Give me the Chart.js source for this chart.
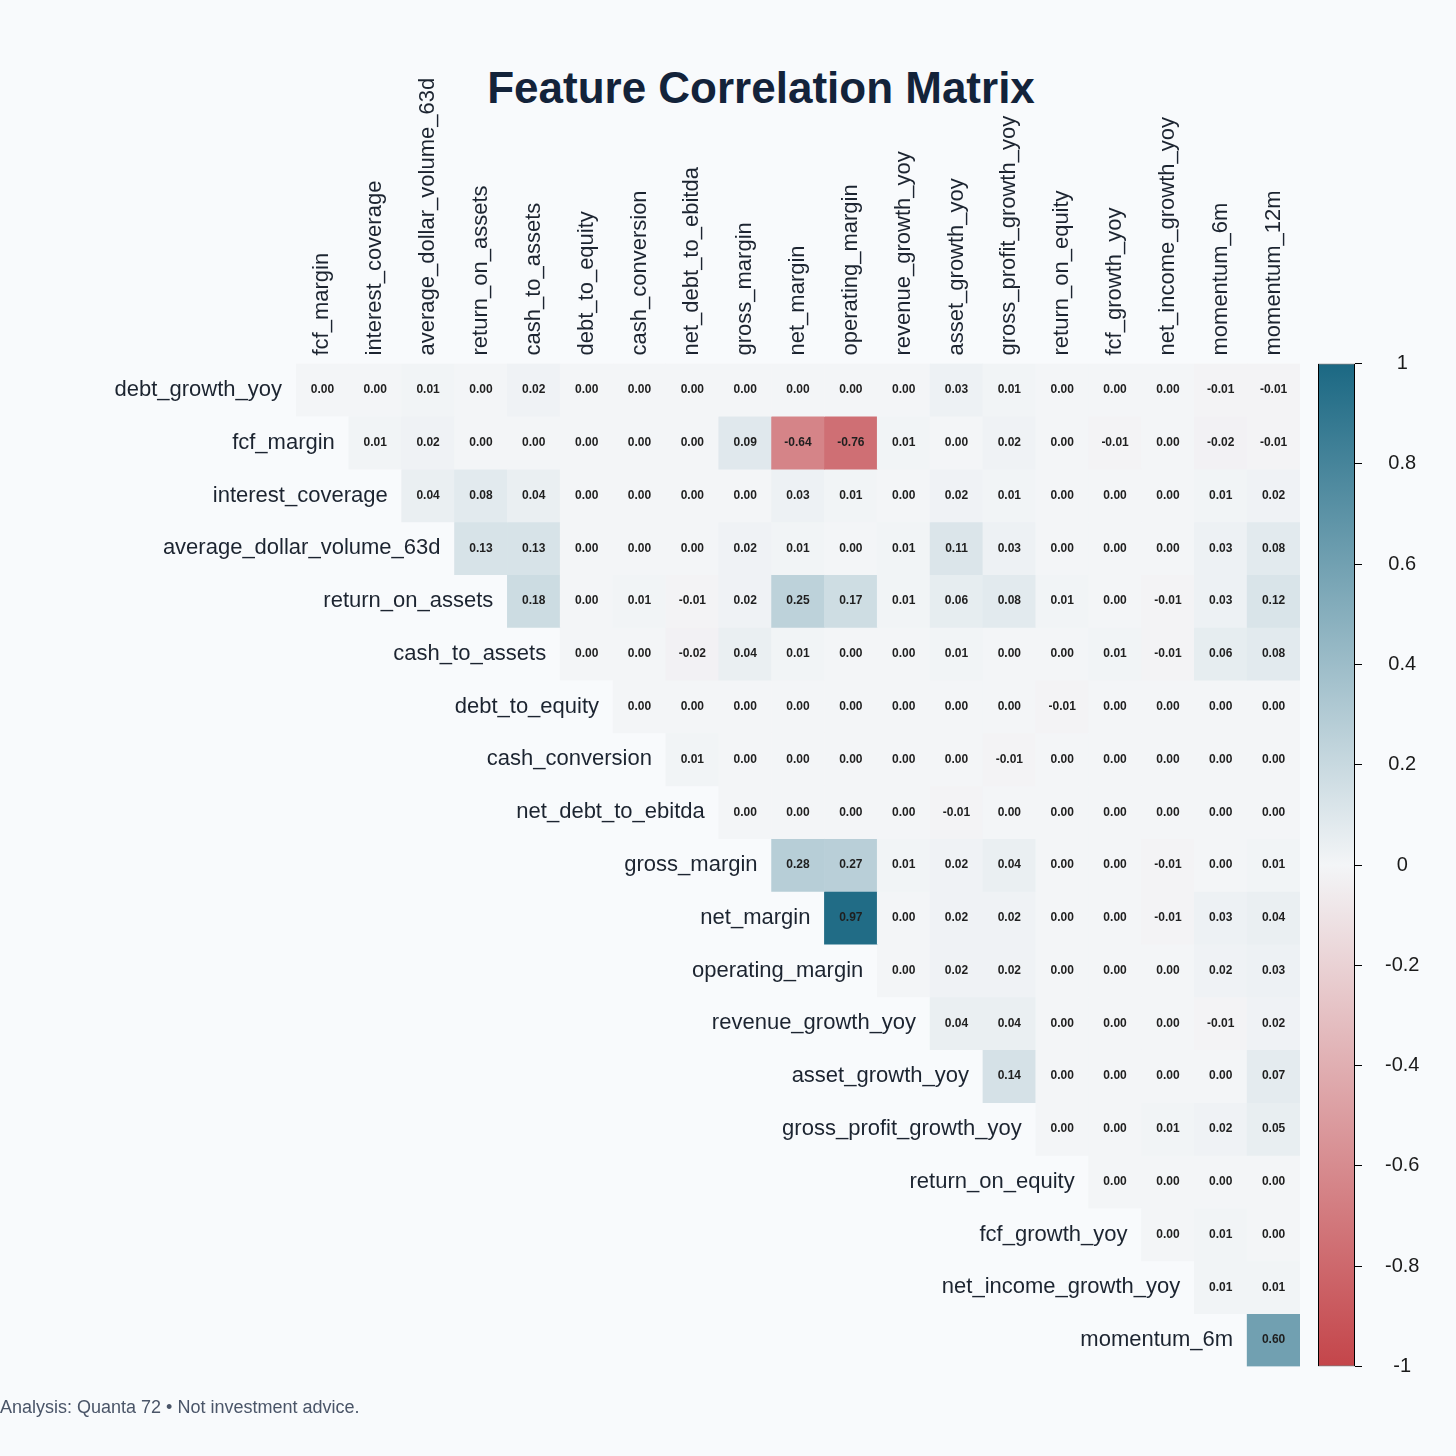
<!DOCTYPE html>
<html>
<head>
<meta charset="utf-8">
<title>Feature Correlation Matrix</title>
<script src="https://cdn.jsdelivr.net/npm/chart.js@4.4.1/dist/chart.umd.min.js"></script>
<style>
  html, body { margin: 0; padding: 0; background: #f8fafc; }
  body { width: 1456px; height: 1456px; position: relative; overflow: hidden; font-family: "Liberation Sans", Arial, sans-serif; }
  #title { position: absolute; top: 66px; left: 761px; transform: translateX(-50%); font-weight: bold; font-size: 44px; line-height: 44px; color: #13233a; white-space: nowrap; }
  #footer { position: absolute; left: 0; top: 1398px; font-size: 18px; line-height: 18px; color: #4a5568; white-space: nowrap; }
  #matrix { position: absolute; left: 0; top: 0; }
  #scale { position: absolute; left: 1300px; top: 340px; }
</style>
</head>
<body>
<div id="title">Feature Correlation Matrix</div>
<canvas id="matrix" width="1456" height="1456"></canvas>
<canvas id="scale" width="156" height="1050"></canvas>
<div id="footer">Analysis: Quanta 72 • Not investment advice.</div>
<script>
const colLabels = [
  "fcf_margin", "interest_coverage", "average_dollar_volume_63d", "return_on_assets",
  "cash_to_assets", "debt_to_equity", "cash_conversion", "net_debt_to_ebitda",
  "gross_margin", "net_margin", "operating_margin", "revenue_growth_yoy",
  "asset_growth_yoy", "gross_profit_growth_yoy", "return_on_equity", "fcf_growth_yoy",
  "net_income_growth_yoy", "momentum_6m", "momentum_12m"
];

const rowLabels = [
  "debt_growth_yoy", "fcf_margin", "interest_coverage", "average_dollar_volume_63d",
  "return_on_assets", "cash_to_assets", "debt_to_equity", "cash_conversion",
  "net_debt_to_ebitda", "gross_margin", "net_margin", "operating_margin",
  "revenue_growth_yoy", "asset_growth_yoy", "gross_profit_growth_yoy", "return_on_equity",
  "fcf_growth_yoy", "net_income_growth_yoy", "momentum_6m"
];

// upper triangle: row r holds the values for columns r..18
const correlations = [
  [0.00, 0.00, 0.01, 0.00, 0.02, 0.00, 0.00, 0.00, 0.00, 0.00, 0.00, 0.00, 0.03, 0.01, 0.00, 0.00, 0.00, -0.01, -0.01],
  [0.01, 0.02, 0.00, 0.00, 0.00, 0.00, 0.00, 0.09, -0.64, -0.76, 0.01, 0.00, 0.02, 0.00, -0.01, 0.00, -0.02, -0.01],
  [0.04, 0.08, 0.04, 0.00, 0.00, 0.00, 0.00, 0.03, 0.01, 0.00, 0.02, 0.01, 0.00, 0.00, 0.00, 0.01, 0.02],
  [0.13, 0.13, 0.00, 0.00, 0.00, 0.02, 0.01, 0.00, 0.01, 0.11, 0.03, 0.00, 0.00, 0.00, 0.03, 0.08],
  [0.18, 0.00, 0.01, -0.01, 0.02, 0.25, 0.17, 0.01, 0.06, 0.08, 0.01, 0.00, -0.01, 0.03, 0.12],
  [0.00, 0.00, -0.02, 0.04, 0.01, 0.00, 0.00, 0.01, 0.00, 0.00, 0.01, -0.01, 0.06, 0.08],
  [0.00, 0.00, 0.00, 0.00, 0.00, 0.00, 0.00, 0.00, -0.01, 0.00, 0.00, 0.00, 0.00],
  [0.01, 0.00, 0.00, 0.00, 0.00, 0.00, -0.01, 0.00, 0.00, 0.00, 0.00, 0.00],
  [0.00, 0.00, 0.00, 0.00, -0.01, 0.00, 0.00, 0.00, 0.00, 0.00, 0.00],
  [0.28, 0.27, 0.01, 0.02, 0.04, 0.00, 0.00, -0.01, 0.00, 0.01],
  [0.97, 0.00, 0.02, 0.02, 0.00, 0.00, -0.01, 0.03, 0.04],
  [0.00, 0.02, 0.02, 0.00, 0.00, 0.00, 0.02, 0.03],
  [0.04, 0.04, 0.00, 0.00, 0.00, -0.01, 0.02],
  [0.14, 0.00, 0.00, 0.00, 0.00, 0.07],
  [0.00, 0.00, 0.01, 0.02, 0.05],
  [0.00, 0.00, 0.00, 0.00],
  [0.00, 0.01, 0.00],
  [0.01, 0.01],
  [0.60]
];

const scaleRange = [-1, 1];

const NEG = [196, 69, 74];
const MID = [243, 245, 247];
const POS = [27, 104, 131];
const FONT = '"Liberation Sans", Arial, sans-serif';
const TEXT = "#1c2430";

const rgb = (c) => `rgb(${c.map(Math.round).join(",")})`;

function cellColor(v) {
  const t = Math.min(1, Math.abs(v));
  const end = v < 0 ? NEG : POS;
  return rgb(MID.map((m, i) => m + (end[i] - m) * t));
}

Chart.defaults.font.family = FONT;

const datasets = rowLabels.map((name, r) => ({
  label: name,
  data: colLabels.map((_, c) => (c >= r ? [r, r + 1] : null)),
  backgroundColor: colLabels.map((_, c) => (c >= r ? cellColor(correlations[r][c - r]) : "rgba(0,0,0,0)")),
  borderWidth: 0,
  grouped: false,
  barPercentage: 1,
  categoryPercentage: 1,
}));

// numbers inside the cells and the row names left of each row
const cellText = {
  id: "cellText",
  afterDatasetsDraw(chart) {
    const ctx = chart.ctx;
    ctx.save();
    ctx.textBaseline = "middle";
    chart.data.datasets.forEach((ds, r) => {
      const bars = chart.getDatasetMeta(r).data;
      ctx.font = "bold 12px " + FONT;
      ctx.fillStyle = "#1f1f1f";
      ctx.textAlign = "center";
      bars.forEach((bar, c) => {
        if (c < r) return;
        const p = bar.getCenterPoint();
        ctx.fillText(correlations[r][c - r].toFixed(2), p.x, p.y);
      });
      const first = bars[r];
      const { x, width } = first.getProps(["x", "width"], true);
      const p = first.getCenterPoint();
      ctx.font = "22px " + FONT;
      ctx.fillStyle = TEXT;
      ctx.textAlign = "right";
      ctx.fillText(rowLabels[r], x - width / 2 - 14, p.y);
    });
    ctx.restore();
  },
};

new Chart(document.getElementById("matrix"), {
  type: "bar",
  data: { labels: colLabels, datasets },
  options: {
    responsive: false,
    animation: false,
    layout: { padding: { left: 296, right: 156, top: 0, bottom: 89.5 } },
    plugins: { legend: { display: false }, tooltip: { enabled: false } },
    scales: {
      x: {
        position: "top",
        grid: { display: false, drawTicks: false },
        border: { display: false },
        ticks: {
          autoSkip: false, minRotation: 90, maxRotation: 90, padding: 8, labelOffset: 26.4,
          color: TEXT, font: { size: 22 },
        },
        afterFit: (s) => { s.height = 363.5; },
      },
      y: { type: "linear", min: 0, max: 19, reverse: true, display: false },
    },
  },
  plugins: [cellText],
});

// colour bar
new Chart(document.getElementById("scale"), {
  type: "bar",
  data: {
    labels: ["r"],
    datasets: [{
      data: [scaleRange],
      backgroundColor: (c) => {
        const y = c.chart.scales.y;
        if (!y || !c.chart.chartArea) return "rgba(0,0,0,0)";
        const g = c.chart.ctx.createLinearGradient(0, y.getPixelForValue(-1), 0, y.getPixelForValue(1));
        g.addColorStop(0, rgb(NEG));
        g.addColorStop(0.5, rgb(MID));
        g.addColorStop(1, rgb(POS));
        return g;
      },
      borderColor: "#000",
      borderWidth: 1,
      borderSkipped: false,
      barPercentage: 1,
      categoryPercentage: 1,
      inflateAmount: 0,
    }],
  },
  options: {
    responsive: false,
    animation: false,
    layout: { padding: { left: 18, top: 23.5, bottom: 23.5, right: 0 } },
    plugins: { legend: { display: false }, tooltip: { enabled: false } },
    scales: {
      x: { display: false },
      y: {
        position: "right",
        min: scaleRange[0],
        max: scaleRange[1],
        grid: { drawOnChartArea: false, drawTicks: true, tickLength: 7, color: "#000" },
        border: { display: false },
        ticks: {
          stepSize: 0.2,
          padding: 23,
          crossAlign: "center",
          color: "#1a1a1a",
          font: { size: 20 },
          callback: (v) => String(+v.toFixed(1)),
        },
        afterFit: (s) => {
          s.width = 101;
          s.paddingTop = 0;
          s.paddingBottom = 0;
        },
      },
    },
  },
});
</script>
</body>
</html>
